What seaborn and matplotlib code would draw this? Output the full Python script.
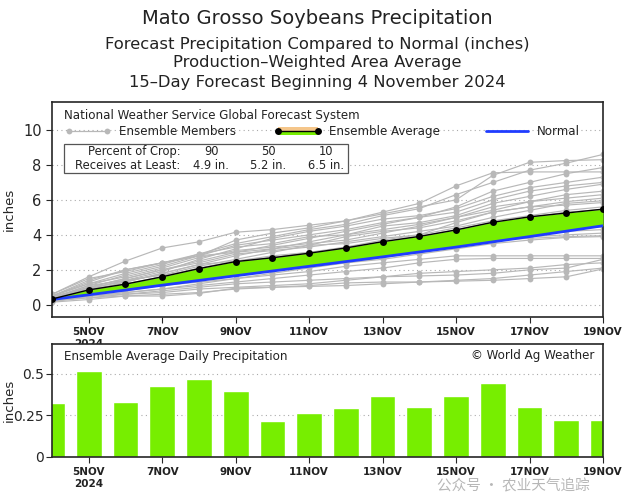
import numpy as np
import pandas as pd
import matplotlib
matplotlib.use("Agg")
import matplotlib.pyplot as plt
from matplotlib.lines import Line2D
from matplotlib.patches import Rectangle
import seaborn as sns

# --------------------------------------------------------------------------- #
# Data
# --------------------------------------------------------------------------- #
DAYS = list(range(4, 20))                      # 4 NOV .. 19 NOV 2024
TICK_DAYS = [5, 7, 9, 11, 13, 15, 17, 19]
TICK_LABELS = ["5NOV\n2024", "7NOV", "9NOV", "11NOV", "13NOV", "15NOV", "17NOV", "19NOV"]

# ensemble-average daily precipitation (inches)
DAILY_AVG = [0.325, 0.52, 0.33, 0.425, 0.47, 0.40, 0.215, 0.265,
             0.295, 0.365, 0.30, 0.37, 0.445, 0.30, 0.22, 0.225]

# cumulative ensemble average (inches)
CUM_AVG = [0.33, 0.85, 1.18, 1.60, 2.07, 2.47, 2.69, 2.95,
           3.25, 3.61, 3.91, 4.28, 4.72, 5.03, 5.25, 5.47]

# cumulative normal (inches)
NORMAL = [0.30, 0.57, 0.84, 1.12, 1.39, 1.66, 1.93, 2.20,
          2.47, 2.74, 3.02, 3.30, 3.60, 3.90, 4.21, 4.52]

# cumulative ensemble members (inches)
MEMBERS = [
    [0.5, 1.2, 1.8, 2.3, 2.9, 3.5, 3.9, 4.3, 4.6, 5.1, 5.5, 6.3, 7.0, 7.7, 8.1, 8.6],
    [0.6, 1.6, 2.5, 3.25, 3.6, 4.15, 4.3, 4.55, 4.8, 5.2, 5.6, 6.0, 7.4, 8.15, 8.25, 8.3],
    [0.4, 1.0, 1.5, 2.0, 2.5, 3.0, 3.4, 3.8, 4.2, 4.6, 5.0, 5.6, 6.5, 7.0, 7.5, 7.85],
    [0.5, 1.3, 2.0, 2.4, 2.8, 3.7, 4.1, 4.4, 4.8, 5.3, 5.8, 6.8, 7.55, 7.6, 7.6, 7.6],
    [0.3, 0.9, 1.4, 1.9, 2.6, 3.2, 3.8, 4.2, 4.5, 4.9, 5.1, 5.5, 6.2, 6.7, 7.0, 7.3],
    [0.4, 1.1, 1.7, 2.2, 2.8, 3.4, 3.7, 4.0, 4.3, 4.7, 5.0, 5.3, 6.0, 6.5, 6.8, 7.0],
    [0.6, 1.5, 1.9, 2.4, 2.9, 3.3, 3.5, 3.9, 4.0, 4.5, 4.7, 5.1, 5.8, 6.2, 6.6, 6.9],
    [0.3, 0.8, 1.3, 1.8, 2.3, 2.8, 3.2, 3.6, 4.0, 4.3, 4.6, 5.0, 5.4, 5.9, 6.3, 6.5],
    [0.5, 1.2, 1.6, 2.1, 2.7, 3.1, 3.3, 3.5, 3.7, 4.1, 4.5, 5.0, 5.6, 5.9, 6.1, 6.3],
    [0.4, 0.9, 1.4, 1.7, 2.2, 2.6, 3.0, 3.4, 3.9, 4.2, 4.4, 4.8, 5.3, 5.6, 5.9, 6.1],
    [0.3, 1.0, 1.5, 2.0, 2.4, 2.9, 3.1, 3.3, 3.6, 3.9, 4.2, 4.5, 5.0, 5.4, 5.8, 5.95],
    [0.5, 1.4, 2.0, 2.4, 2.8, 3.0, 3.2, 3.4, 3.5, 3.8, 4.0, 4.7, 5.3, 5.6, 5.7, 5.85],
    [0.3, 0.7, 1.1, 1.5, 2.0, 2.4, 2.7, 3.0, 3.3, 3.7, 4.0, 4.4, 4.8, 5.1, 5.4, 5.6],
    [0.4, 1.0, 1.3, 1.8, 2.3, 2.5, 2.7, 2.9, 3.2, 3.5, 3.8, 4.1, 4.6, 5.0, 5.3, 5.45],
    [0.2, 0.6, 1.0, 1.4, 1.8, 2.2, 2.5, 2.9, 3.3, 3.6, 3.9, 4.3, 4.7, 4.9, 5.1, 5.3],
    [0.3, 0.8, 1.2, 1.6, 2.1, 2.5, 2.8, 3.0, 3.2, 3.4, 3.6, 4.0, 4.4, 4.7, 4.9, 5.1],
    [0.4, 1.1, 1.4, 1.7, 2.0, 2.3, 2.6, 2.8, 3.1, 3.3, 3.5, 3.9, 4.3, 4.6, 4.8, 4.9],
    [0.2, 0.5, 0.9, 1.3, 1.7, 2.0, 2.3, 2.6, 2.9, 3.2, 3.5, 3.8, 4.2, 4.5, 4.6, 4.75],
    [0.3, 0.7, 1.0, 1.3, 1.6, 1.9, 2.2, 2.5, 2.8, 3.1, 3.3, 3.6, 4.0, 4.3, 4.5, 4.55],
    [0.5, 0.9, 1.2, 1.5, 1.9, 2.2, 2.4, 2.6, 2.8, 3.0, 3.2, 3.5, 3.9, 4.2, 4.4, 4.45],
    [0.2, 0.6, 0.8, 1.1, 1.4, 1.7, 2.0, 2.3, 2.6, 2.9, 3.1, 3.4, 3.7, 4.0, 4.2, 4.3],
    [0.3, 0.6, 0.9, 1.2, 1.5, 1.8, 2.1, 2.3, 2.5, 2.8, 3.0, 3.3, 3.6, 3.9, 4.0, 4.1],
    [0.2, 0.5, 0.7, 0.9, 1.2, 1.5, 1.8, 2.1, 2.4, 2.7, 3.0, 3.3, 3.7, 3.8, 3.9, 3.95],
    [0.4, 0.8, 1.1, 1.4, 1.6, 1.8, 2.0, 2.2, 2.4, 2.6, 2.9, 3.2, 3.5, 3.7, 3.85, 3.9],
    [0.3, 0.6, 0.9, 1.1, 1.3, 1.5, 1.7, 1.9, 2.2, 2.4, 2.6, 2.8, 2.8, 2.8, 2.8, 2.8],
    [0.2, 0.5, 0.7, 0.9, 1.1, 1.3, 1.5, 1.7, 1.9, 2.1, 2.4, 2.6, 2.65, 2.65, 2.65, 2.65],
    [0.3, 0.4, 0.6, 0.7, 0.9, 1.0, 1.1, 1.2, 1.4, 1.6, 1.8, 1.9, 2.0, 2.1, 2.3, 2.4],
    [0.15, 0.3, 0.5, 0.6, 0.7, 0.9, 1.0, 1.1, 1.25, 1.3, 1.3, 1.4, 1.5, 1.7, 1.9, 2.1],
    [0.2, 0.4, 0.5, 0.5, 0.65, 0.95, 1.0, 1.05, 1.1, 1.2, 1.3, 1.35, 1.4, 1.5, 1.6, 2.05],
    [0.35, 0.5, 0.6, 0.8, 1.0, 1.2, 1.3, 1.4, 1.5, 1.6, 1.65, 1.7, 1.8, 2.0, 2.1, 2.6],
]

CROP_PCT = ["90", "50", "10"]
CROP_AMT = ["4.9 in.", "5.2 in.", "6.5 in."]

# --------------------------------------------------------------------------- #
# Style
# --------------------------------------------------------------------------- #
GREEN = "#77ee00"
MEMBER_GRAY = "#b8b8b8"
NORMAL_BLUE = "#1f3cff"
GRID_KW = dict(color="#aaaaaa", ls=(0, (1, 3)), lw=0.8)
TXT = "#222222"

sns.set_style("ticks")
plt.rcParams["font.family"] = ["DejaVu Sans", "Noto Sans CJK SC"]

W, H = 635, 495
fig = plt.figure(figsize=(W / 100, H / 100), dpi=100)


def fig_rect(x0, y0, x1, y1):
    """pixel box (top-left origin) -> figure fraction rect"""
    return [x0 / W, 1 - y1 / H, (x1 - x0) / W, (y1 - y0) / H]


ax = fig.add_axes(fig_rect(52, 102, 603, 317))
axb = fig.add_axes(fig_rect(52, 344, 603, 457))
YLAB_X = -0.066   # shared x of the two "inches" labels

# --------------------------------------------------------------------------- #
# Top panel: cumulative precipitation
# --------------------------------------------------------------------------- #
members = pd.DataFrame(
    [(i, d, v) for i, row in enumerate(MEMBERS) for d, v in zip(DAYS, row)],
    columns=["member", "day", "inches"],
)
for y in range(0, 11, 2):
    ax.axhline(y, zorder=0, **GRID_KW)

sns.lineplot(data=members, x="day", y="inches", units="member", estimator=None,
             color=MEMBER_GRAY, lw=0.85, marker="o", markersize=4.2,
             markeredgewidth=0, ax=ax, legend=False, zorder=2)
ax.fill_between(DAYS, NORMAL, CUM_AVG, color=GREEN, lw=0, zorder=3)
sns.lineplot(x=DAYS, y=NORMAL, color=NORMAL_BLUE, lw=2.0, ax=ax, zorder=4)
sns.lineplot(x=DAYS, y=CUM_AVG, color="black", lw=1.0, marker="o",
             markersize=5, markeredgewidth=0, ax=ax, zorder=5)

ax.set_xlim(4, 19)
ax.set_ylim(-0.7, 11.6)
ax.set_yticks(range(0, 11, 2))
ax.set_xticks(TICK_DAYS)
ax.set_xticklabels(TICK_LABELS, fontsize=7.5, fontweight="bold", color=TXT)
ax.tick_params(axis="y", labelsize=10.5, length=4)
ax.tick_params(axis="x", length=4)
ax.set_xlabel("")
ax.set_ylabel("inches", fontsize=9.5)
ax.yaxis.set_label_coords(YLAB_X, 0.5)
for s in ax.spines.values():
    s.set_visible(True)
    s.set_linewidth(1.2)

# legend block
tk = dict(transform=ax.transAxes, fontsize=8.6, va="center", color=TXT)
ax.text(0.022, 0.935, "National Weather Service Global Forecast System", **tk)
ax.add_line(Line2D([0.030, 0.100], [0.865, 0.865], transform=ax.transAxes,
                   color=MEMBER_GRAY, lw=0.9, marker="o", markersize=4.2,
                   markeredgewidth=0, markevery=[0, 1]))
ax.text(0.122, 0.865, "Ensemble Members", **tk)
ax.add_patch(Rectangle((0.410, 0.865), 0.073, 0.018, transform=ax.transAxes,
                       color="#f5c68a", lw=0, zorder=6))
ax.add_patch(Rectangle((0.410, 0.847), 0.073, 0.018, transform=ax.transAxes,
                       color=GREEN, lw=0, zorder=6))
ax.add_line(Line2D([0.410, 0.483], [0.865, 0.865], transform=ax.transAxes,
                   color="black", lw=1.0, marker="o", markersize=5,
                   markeredgewidth=0, zorder=7))
ax.text(0.502, 0.865, "Ensemble Average", **tk)
ax.add_line(Line2D([0.787, 0.863], [0.865, 0.865], transform=ax.transAxes,
                   color=NORMAL_BLUE, lw=2.0))
ax.text(0.880, 0.865, "Normal", **tk)

ax.add_patch(Rectangle((0.022, 0.670), 0.515, 0.135, transform=ax.transAxes,
                       facecolor="white", edgecolor="#555555", lw=0.9, zorder=6))
bk = dict(transform=ax.transAxes, fontsize=8.3, va="center", zorder=7, color=TXT)
ax.text(0.233, 0.768, "Percent of Crop:", ha="right", **bk)
ax.text(0.233, 0.705, "Receives at Least:", ha="right", **bk)
for xc, pct, amt in zip([0.289, 0.393, 0.497], CROP_PCT, CROP_AMT):
    ax.text(xc, 0.768, pct, ha="center", **bk)
    ax.text(xc, 0.705, amt, ha="center", **bk)

# --------------------------------------------------------------------------- #
# Bottom panel: daily ensemble average
# --------------------------------------------------------------------------- #
for y in (0.25, 0.5):
    axb.axhline(y, zorder=0, **GRID_KW)
sns.barplot(x=DAYS, y=DAILY_AVG, native_scale=True, width=0.7, color=GREEN,
            saturation=1, ax=axb, zorder=2)
axb.set_xlim(4, 19)
axb.set_ylim(0, 0.68)
axb.set_yticks([0, 0.25, 0.5])
axb.set_yticklabels(["0", "0.25", "0.5"])
axb.set_xticks(TICK_DAYS)
axb.set_xticklabels(TICK_LABELS, fontsize=7.5, fontweight="bold", color=TXT)
axb.tick_params(axis="y", labelsize=10, length=4, pad=2)
axb.tick_params(axis="x", length=4)
axb.set_xlabel("")
axb.set_ylabel("inches", fontsize=9.5)
axb.yaxis.set_label_coords(YLAB_X, 0.5)
for s in axb.spines.values():
    s.set_visible(True)
    s.set_linewidth(1.2)
axb.text(0.022, 0.89, "Ensemble Average Daily Precipitation", transform=axb.transAxes,
         fontsize=8.6, va="center", color=TXT)
axb.text(0.985, 0.90, "© World Ag Weather", transform=axb.transAxes,
         fontsize=8.6, va="center", ha="right", color=TXT)

# --------------------------------------------------------------------------- #
# Titles and watermark
# --------------------------------------------------------------------------- #
fig.text(0.5, 1 - 19 / H, "Mato Grosso Soybeans Precipitation",
         ha="center", va="center", fontsize=14, color=TXT)
for ypix, line in [(44, "Forecast Precipitation Compared to Normal (inches)"),
                   (63, "Production\u2013Weighted Area Average"),
                   (83, "15\u2013Day Forecast Beginning 4 November 2024")]:
    fig.text(0.5, 1 - ypix / H, line, ha="center", va="center",
             fontsize=11.8, color=TXT)
fig.text(437 / W, 1 - 486 / H, "公众号 · 农业天气追踪", ha="left", va="center",
         fontsize=10.5, color="#999999", alpha=0.7,
         family=["Noto Sans CJK SC", "DejaVu Sans"])

fig.savefig("out.png", dpi=100)
